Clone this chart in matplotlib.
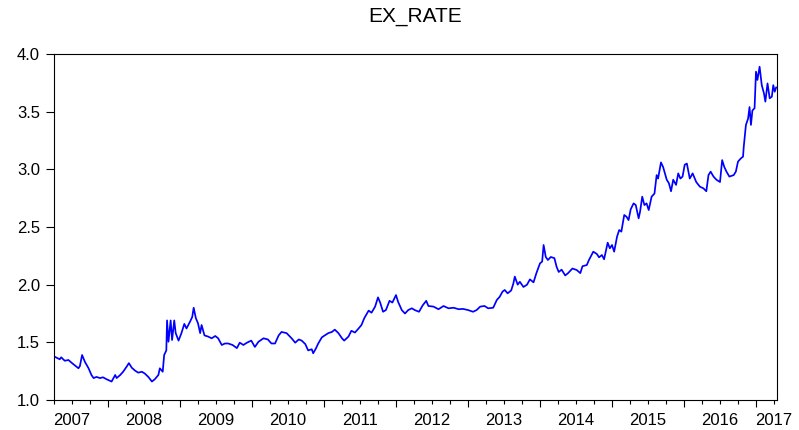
import matplotlib
matplotlib.use('Agg')
import matplotlib.pyplot as plt
from matplotlib.ticker import FixedLocator, FormatStrFormatter

plt.rcParams['font.family'] = ['Liberation Sans', 'DejaVu Sans']

# ------------------------------------------------------------
# data (decimal year, exchange rate)
# ------------------------------------------------------------
years = [
    2007.26, 2007.33, 2007.35, 2007.40, 2007.45, 2007.50, 2007.54, 2007.59,
    2007.61, 2007.64, 2007.68, 2007.73, 2007.77, 2007.80, 2007.84, 2007.89,
    2007.93, 2007.98, 2008.05, 2008.10, 2008.12, 2008.17, 2008.21, 2008.26,
    2008.29, 2008.33, 2008.375, 2008.42, 2008.47, 2008.51, 2008.56, 2008.61,
    2008.65, 2008.70, 2008.72, 2008.76, 2008.78, 2008.81, 2008.82, 2008.84,
    2008.87, 2008.89, 2008.92, 2008.94, 2008.98,
    2009.02, 2009.06, 2009.09, 2009.14, 2009.17, 2009.19, 2009.22, 2009.25,
    2009.28, 2009.30, 2009.34, 2009.39, 2009.44, 2009.49, 2009.53, 2009.58,
    2009.625, 2009.67, 2009.73, 2009.79, 2009.83, 2009.88, 2009.93, 2009.99,
    2010.04, 2010.09, 2010.16, 2010.22, 2010.27, 2010.32, 2010.37, 2010.41,
    2010.48, 2010.55, 2010.60, 2010.65, 2010.69, 2010.74, 2010.78, 2010.83,
    2010.85, 2010.89, 2010.92, 2010.97,
    2011.01, 2011.06, 2011.11, 2011.15, 2011.20, 2011.25, 2011.28, 2011.34,
    2011.38, 2011.43, 2011.48, 2011.52, 2011.56, 2011.62, 2011.66, 2011.71,
    2011.75, 2011.78, 2011.82, 2011.86, 2011.91, 2011.95, 2012.00, 2012.03,
    2012.08, 2012.125, 2012.17, 2012.22, 2012.26, 2012.32, 2012.37, 2012.42,
    2012.45, 2012.52, 2012.59, 2012.66, 2012.73, 2012.80, 2012.87, 2012.93,
    2013.00, 2013.07, 2013.12, 2013.17, 2013.23, 2013.28, 2013.35, 2013.40,
    2013.44, 2013.48, 2013.51, 2013.55, 2013.60, 2013.63, 2013.65, 2013.69,
    2013.72, 2013.77, 2013.82, 2013.86, 2013.91, 2013.95,
    2014.00, 2014.03, 2014.05, 2014.08, 2014.11, 2014.15, 2014.20, 2014.23,
    2014.26, 2014.30, 2014.35, 2014.39, 2014.45, 2014.51, 2014.56, 2014.59,
    2014.65, 2014.68, 2014.74, 2014.79, 2014.82, 2014.86, 2014.89, 2014.94,
    2014.97, 2015.00, 2015.03, 2015.07, 2015.10, 2015.13, 2015.17, 2015.20,
    2015.23, 2015.26, 2015.30, 2015.33, 2015.37, 2015.39, 2015.42, 2015.45,
    2015.48, 2015.51, 2015.55, 2015.59, 2015.62, 2015.64, 2015.68, 2015.71,
    2015.76, 2015.79, 2015.82, 2015.85, 2015.89, 2015.92, 2015.95, 2015.98,
    2016.01, 2016.04, 2016.08, 2016.12, 2016.17, 2016.22, 2016.27, 2016.31,
    2016.34, 2016.37, 2016.41, 2016.45, 2016.50, 2016.53, 2016.56, 2016.59,
    2016.63, 2016.69, 2016.72, 2016.75, 2016.79, 2016.82, 2016.83, 2016.86,
    2016.89, 2016.91, 2016.93, 2016.95, 2016.98, 2017.00, 2017.02, 2017.05,
    2017.08, 2017.11, 2017.13, 2017.16, 2017.19, 2017.22, 2017.24, 2017.26,
    2017.28,
]
ex_rate = [
    1.375, 1.353, 1.37, 1.34, 1.347, 1.32, 1.30, 1.275,
    1.295, 1.39, 1.33, 1.275, 1.217, 1.19, 1.20, 1.19,
    1.197, 1.18, 1.16, 1.217, 1.19, 1.217, 1.245, 1.29,
    1.32, 1.28, 1.255, 1.237, 1.245, 1.23, 1.20, 1.16,
    1.18, 1.217, 1.275, 1.245, 1.39, 1.43, 1.69, 1.505,
    1.69, 1.52, 1.69, 1.58, 1.515,
    1.58, 1.66, 1.62, 1.68, 1.72, 1.80, 1.71, 1.665,
    1.58, 1.65, 1.56, 1.55, 1.535, 1.555, 1.535, 1.477,
    1.49, 1.49, 1.477, 1.45, 1.497, 1.477, 1.497, 1.515,
    1.46, 1.505, 1.535, 1.525, 1.49, 1.49, 1.56, 1.59,
    1.58, 1.535, 1.497, 1.525, 1.515, 1.485, 1.43, 1.44,
    1.405, 1.45, 1.49, 1.543,
    1.56, 1.58, 1.59, 1.61, 1.58, 1.535, 1.515, 1.55,
    1.60, 1.585, 1.62, 1.65, 1.71, 1.775, 1.757, 1.81,
    1.89, 1.845, 1.765, 1.78, 1.86, 1.845, 1.91, 1.85,
    1.78, 1.75, 1.78, 1.795, 1.78, 1.765, 1.82, 1.86,
    1.815, 1.81, 1.787, 1.815, 1.795, 1.80, 1.787, 1.79,
    1.78, 1.765, 1.78, 1.81, 1.815, 1.795, 1.80, 1.867,
    1.895, 1.94, 1.954, 1.925, 1.95, 2.01, 2.07, 2.00,
    2.025, 1.98, 2.00, 2.046, 2.02, 2.10,
    2.185, 2.20, 2.344, 2.24, 2.214, 2.24, 2.23, 2.156,
    2.11, 2.13, 2.08, 2.10, 2.14, 2.127, 2.10, 2.16,
    2.17, 2.214, 2.286, 2.266, 2.237, 2.257, 2.22, 2.364,
    2.315, 2.344, 2.286, 2.416, 2.474, 2.46, 2.604, 2.59,
    2.56, 2.654, 2.705, 2.69, 2.575, 2.633, 2.763, 2.69,
    2.705, 2.647, 2.763, 2.79, 2.95, 2.92, 3.06, 3.02,
    2.91, 2.88, 2.81, 2.91, 2.865, 2.965, 2.92, 2.937,
    3.04, 3.05, 2.92, 2.965, 2.89, 2.85, 2.835, 2.81,
    2.95, 2.98, 2.937, 2.91, 2.89, 3.08, 3.02, 2.98,
    2.937, 2.95, 2.98, 3.067, 3.095, 3.11, 3.197, 3.385,
    3.44, 3.54, 3.385, 3.51, 3.53, 3.847, 3.775, 3.89,
    3.73, 3.66, 3.587, 3.745, 3.616, 3.63, 3.73, 3.673,
    3.71,
]

year_labels = ['2007', '2008', '2009', '2010', '2011', '2012',
               '2013', '2014', '2015', '2016', '2017']
label_pos = [2007.5, 2008.5, 2009.5, 2010.5, 2011.5, 2012.5,
             2013.5, 2014.5, 2015.5, 2016.5, 2017.24]
y_ticks = [1.0, 1.5, 2.0, 2.5, 3.0, 3.5, 4.0]

# ------------------------------------------------------------
# figure
# ------------------------------------------------------------
fig = plt.figure(figsize=(7.99, 4.30), dpi=100)
ax = fig.add_axes([54 / 799, 30 / 430, 723 / 799, 346 / 430])

ax.plot(years, ex_rate, color='#0000FF', lw=1.25)

ax.set_xlim(2007.25, 2017.2917)
ax.set_ylim(1.0, 4.0)

for sp in ax.spines.values():
    sp.set_color('black')
    sp.set_linewidth(0.8)

# y axis
ax.set_yticks(y_ticks)
ax.yaxis.set_major_formatter(FormatStrFormatter('%.1f'))
ax.tick_params(axis='y', direction='out', length=6, width=0.8, pad=4,
               labelsize=12, colors='black')

# x axis: long ticks at year starts, short at quarters, labels mid-year
ax.xaxis.set_major_locator(FixedLocator(range(2008, 2018)))
ax.xaxis.set_minor_locator(FixedLocator(
    [y + q for y in range(2007, 2018) for q in (0.25, 0.5, 0.75)]))
ax.tick_params(axis='x', which='major', direction='out', length=5,
               width=0.8, labelbottom=False)
ax.tick_params(axis='x', which='minor', direction='out', length=3,
               width=0.8)

for lab, pos in zip(year_labels, label_pos):
    ax.annotate(lab, xy=(pos, 0), xycoords=('data', 'axes fraction'),
                xytext=(0, -9.5), textcoords='offset points',
                ha='center', va='top', fontsize=12)

fig.text(415.5 / 799, 1 - 16 / 430, 'EX_RATE', ha='center', va='center',
         fontsize=15)

fig.savefig('out.png', dpi=100)
